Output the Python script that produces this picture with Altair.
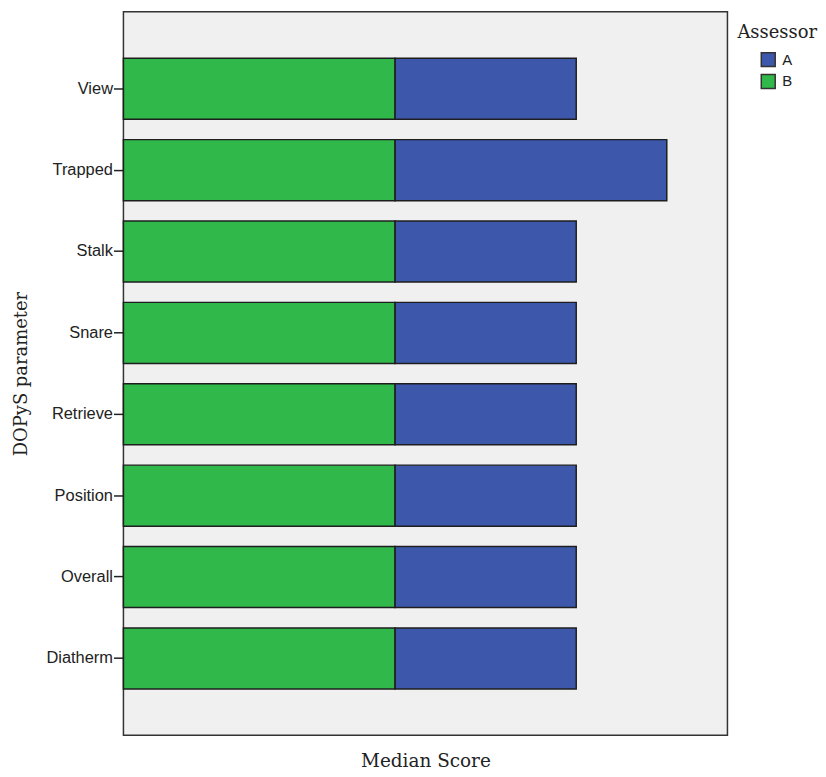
import altair as alt
import pandas as pd

categories = ["View", "Trapped", "Stalk", "Snare", "Retrieve", "Position", "Overall", "Diatherm"]
assessor_a = [2, 3, 2, 2, 2, 2, 2, 2]
assessor_b = [3, 3, 3, 3, 3, 3, 3, 3]

rows = []
for c, a, b in zip(categories, assessor_a, assessor_b):
    rows.append({"param": c, "Assessor": "B", "score": b, "ord": 0})
    rows.append({"param": c, "Assessor": "A", "score": a, "ord": 1})
df = pd.DataFrame(rows)

serif = "DejaVu Serif"
sans = "Liberation Sans"

chart = alt.Chart(df).mark_bar(stroke="#1e1e1e", strokeWidth=1.5).encode(
    y=alt.Y("param:N", sort=categories,
            scale=alt.Scale(paddingInner=0.25, paddingOuter=0.57),
            axis=alt.Axis(title="DOPyS parameter", titleFont=serif, titleFontSize=18,
                          titleFontWeight="normal", titleColor="#222",
                          labelFont=sans, labelFontSize=16.5, labelColor="#222",
                          tickSize=10, tickColor="#222", tickWidth=1.5, labelPadding=1,
                          domain=False, titlePadding=15)),
    x=alt.X("score:Q", stack="zero",
            scale=alt.Scale(domain=[0, 6.67], nice=False, zero=True),
            axis=alt.Axis(title="Median Score", titleFont=serif, titleFontSize=18.5,
                          titleFontWeight="normal", titleColor="#222",
                          labels=False, ticks=False, domain=False, grid=False,
                          titlePadding=16)),
    color=alt.Color("Assessor:N",
                    scale=alt.Scale(domain=["A", "B"], range=["#3d58ab", "#30b84a"]),
                    legend=alt.Legend(title="Assessor", orient="none", legendX=617, legendY=12,
                                      titleFont=serif, titleFontSize=18, titleFontWeight="normal",
                                      titleColor="#222", titlePadding=10,
                                      labelFont=sans, labelFontSize=15, labelColor="#222",
                                      symbolType="square", symbolSize=196, symbolStrokeWidth=1.5,
                                      symbolStrokeColor="#333", symbolOffset=23,
                                      labelOffset=6, rowPadding=2)),
    order=alt.Order("ord:Q"),
).properties(
    width=607, height=727,
    padding={"left": 5, "top": 2, "right": 0, "bottom": 0},
).configure_view(
    fill="#f0f0f0", stroke="#333", strokeWidth=1.5
).configure_axis(grid=False)

chart.save("out.html", embed_options={"renderer": "svg", "actions": False})
